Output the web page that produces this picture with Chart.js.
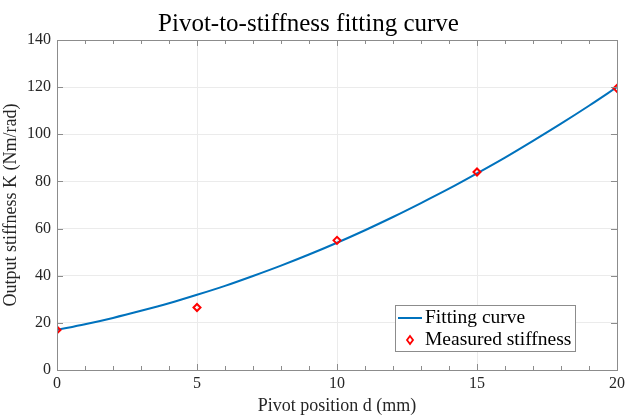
<!DOCTYPE html>
<html>
<head>
<meta charset="utf-8">
<script src="https://cdn.jsdelivr.net/npm/chart.js@4/dist/chart.umd.min.js"></script>
<style>
html,body{margin:0;padding:0;background:#fff;}
#wrap{width:626px;height:417px;}
</style>
</head>
<body>
<div id="wrap"><canvas id="c" width="626" height="417"></canvas></div>
<script>
const titleText = 'Pivot-to-stiffness fitting curve';
const xTitle = 'Pivot position d (mm)';
const yTitle = 'Output stiffness K (Nm/rad)';

const curveD = [0,1,2,3,4,5,6,7,8,9,10,11,12,13,14,15,16,17,18,19,20];
const curveK = [17.0,19.4,22.1,25.1,28.3,31.9,35.7,39.9,44.3,49.0,54.0,59.3,64.9,70.8,76.9,83.4,90.1,97.2,104.5,112.1,120.0];

const measD = [0,5,10,15,20];
const measK = [17.0,26.5,55.0,84.0,119.5];

const xTicks = [0,5,10,15,20];
const yTicks = [0,20,40,60,80,100,120,140];

const SERIF = '"Liberation Serif","DejaVu Serif",serif';
const axisCol = '#8c8c8c';
const textCol = '#262626';

const inwardTicks = {
  id:'inwardTicks',
  afterDatasetsDraw(chart){
    const {ctx, chartArea:a, scales:{x,y}} = chart;
    ctx.save();
    ctx.strokeStyle = axisCol;
    ctx.lineWidth = 1;
    ctx.strokeRect(Math.round(a.left)+0.5, Math.round(a.top)+0.5, Math.round(a.right-a.left), Math.round(a.bottom-a.top));
    ctx.beginPath();
    for(let v=x.min; v<=x.max; v+=1){
      const px = Math.round(x.getPixelForValue(v))+0.5;
      const len = (v%5===0)?6:4;
      ctx.moveTo(px,a.bottom); ctx.lineTo(px,a.bottom-len);
      ctx.moveTo(px,a.top); ctx.lineTo(px,a.top+len);
    }
    for(const v of yTicks){
      const py = Math.round(y.getPixelForValue(v))+0.5;
      ctx.moveTo(a.left,py); ctx.lineTo(a.left+6,py);
      ctx.moveTo(a.right,py); ctx.lineTo(a.right-6,py);
    }
    ctx.stroke();
    ctx.restore();
  },
  afterDraw(chart){
    const {ctx} = chart;
    const L = 395, T = 305, W = 180, H = 46;
    ctx.save();
    ctx.fillStyle = '#fff';
    ctx.fillRect(L,T,W,H);
    ctx.strokeStyle = '#8c8c8c';
    ctx.lineWidth = 1;
    ctx.strokeRect(L+0.5,T+0.5,W,H);
    const ds = chart.data.datasets;
    ctx.font = '19.5px '+SERIF;
    ctx.textBaseline = 'middle';
    ctx.strokeStyle = ds[0].borderColor;
    ctx.lineWidth = 2;
    ctx.beginPath(); ctx.moveTo(L+3, T+13); ctx.lineTo(L+27, T+13); ctx.stroke();
    ctx.fillStyle = '#000';
    ctx.fillText(ds[0].label, L+30, T+13);
    const cx = L+15, cy = T+35;
    ctx.strokeStyle = ds[1].borderColor;
    ctx.lineWidth = 1.8;
    ctx.beginPath();
    ctx.moveTo(cx, cy-4); ctx.lineTo(cx+3, cy); ctx.lineTo(cx, cy+4); ctx.lineTo(cx-3, cy); ctx.closePath();
    ctx.stroke();
    ctx.fillStyle = '#000';
    ctx.fillText(ds[1].label, L+30, T+35);
    ctx.restore();
  }
};

new Chart(document.getElementById('c'), {
  type:'scatter',
  data:{
    datasets:[
      {
        label:'Fitting curve',
        type:'line',
        data: curveD.map((d,i)=>({x:d,y:curveK[i]})),
        borderColor:'#0072BD',
        borderWidth:2,
        pointRadius:0,
        cubicInterpolationMode:'monotone',
        fill:false,
        order:2
      },
      {
        label:'Measured stiffness',
        data: measD.map((d,i)=>({x:d,y:measK[i]})),
        borderColor:'#ff0000',
        backgroundColor:'rgba(255,255,255,0)',
        pointStyle:'rectRot',
        pointRadius:3.5,
        pointBorderWidth:2,
        order:1
      }
    ]
  },
  options:{
    responsive:false,
    animation:false,
    devicePixelRatio:1,
    layout:{padding:{left:0,right:9,top:0,bottom:0}},
    plugins:{
      legend:{display:false},
      tooltip:{enabled:false},
      title:{
        display:true,
        text:titleText,
        color:'#000',
        font:{family:SERIF,size:25,weight:'normal'},
        padding:{top:9,bottom:1}
      }
    },
    scales:{
      x:{
        type:'linear',
        min:0,max:20,
        afterBuildTicks(s){ s.ticks = xTicks.map(v=>({value:v})); },
        afterFit(s){ s.height = 47; s.paddingLeft = 0; s.paddingRight = 0; },
        grid:{color:'#ebebeb',drawTicks:false,drawOnChartArea:true},
        border:{display:false},
        ticks:{color:textCol,font:{family:SERIF,size:16},padding:4,maxRotation:0},
        title:{display:true,text:xTitle,color:textCol,font:{family:SERIF,size:18},padding:{top:0,bottom:0}}
      },
      y:{
        type:'linear',
        min:0,max:140,
        afterBuildTicks(s){ s.ticks = yTicks.map(v=>({value:v})); },
        afterFit(s){ s.width = 57; s.paddingTop = 0; s.paddingBottom = 0; },
        grid:{color:'#ebebeb',drawTicks:false},
        border:{display:false},
        ticks:{color:textCol,font:{family:SERIF,size:16},padding:6},
        title:{display:true,text:yTitle,color:textCol,font:{family:SERIF,size:18},padding:{top:0,bottom:2}}
      }
    }
  },
  plugins:[inwardTicks]
});
</script>
</body>
</html>
